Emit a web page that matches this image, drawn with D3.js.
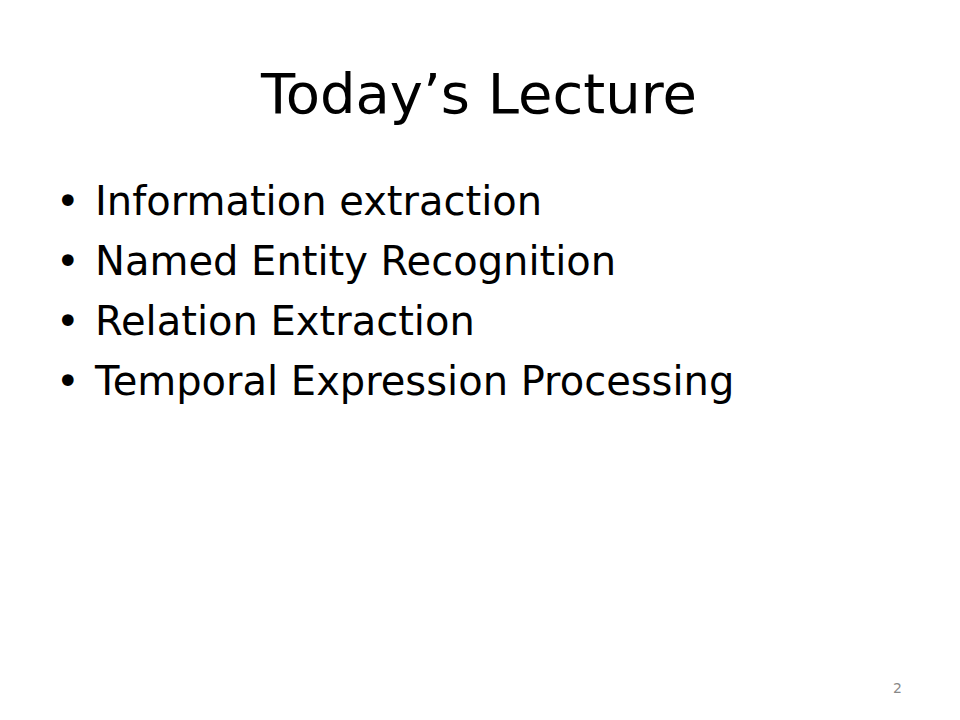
<!DOCTYPE html>
<html><head><meta charset="utf-8">
<script src="https://cdn.jsdelivr.net/npm/d3@7"></script>
<style>body{margin:0;background:#fff}</style>
</head><body>
<script>
// contenido de la diapositiva
const titulo = "Today\u2019s Lecture"
const items = ["Information extraction","Named Entity Recognition","Relation Extraction","Temporal Expression Processing"]
const pagina = "2"

const svg = d3.select("body").append("svg").attr("width",960).attr("height",720)
  .style("font-family","DejaVu Sans")

svg.append("text").attr("x",479).attr("y",113).attr("text-anchor","middle")
  .attr("font-size",56).attr("fill","#000").text(titulo)

// escala para las filas de viñetas
const y = d3.scalePoint().domain(d3.range(items.length)).range([215,395])

const g = svg.selectAll("g.item").data(items).enter().append("g")
  .attr("transform",(d,i)=>`translate(0,${y(i)})`)
g.append("text").attr("x",56).attr("font-size",40).text("\u2022")
g.append("text").attr("x",95).attr("font-size",40).text(d=>d)

svg.append("text").attr("x",902).attr("y",693).attr("text-anchor","end")
  .attr("font-size",14).attr("fill","#888").text(pagina)
</script>
</body></html>
